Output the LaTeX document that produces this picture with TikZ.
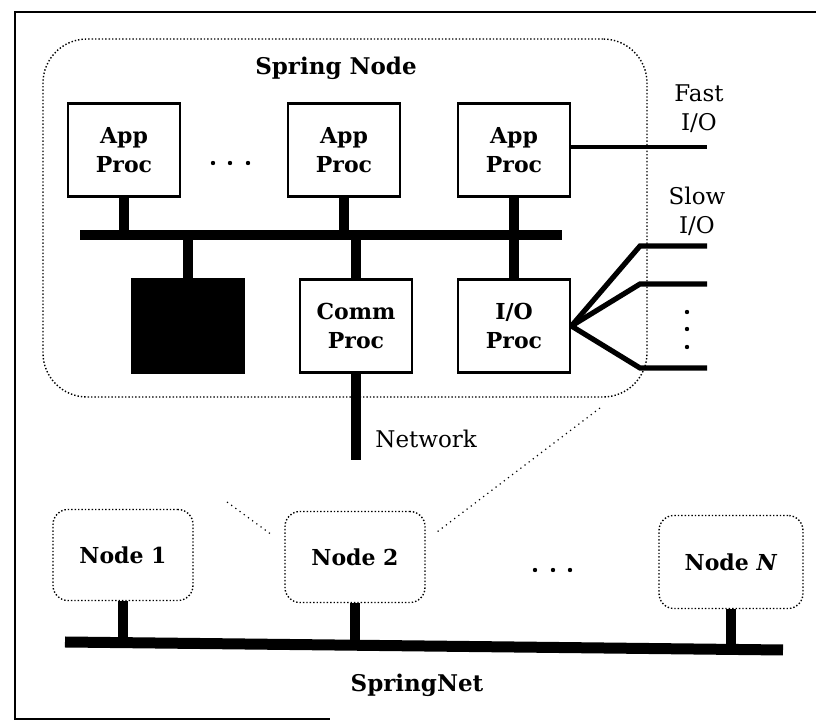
\documentclass[tikz,border=0pt]{standalone}
\usepackage{fontspec}
\setmainfont{DejaVu Serif}
\usetikzlibrary{calc}

\begin{document}
\begin{tikzpicture}[x=0.5pt,y=-0.5pt,
  proc/.style={draw, line width=1.4pt, fill=white, minimum width=56pt,
    minimum height=46.5pt, inner sep=0pt, align=center,
    font=\fontsize{11}{14.5}\selectfont\bfseries},
  finedots/.style={dash pattern=on 0.7pt off 1pt, line width=0.7pt},
  cluster/.style={draw, finedots, rounded corners=7.5pt,
    fill=white, minimum width=70pt, minimum height=45.5pt, inner sep=0pt,
    font=\fontsize{11}{14}\selectfont\bfseries},
  bus/.style={line width=5pt},
  stem/.style={line width=5pt},
  fastio/.style={line width=2pt},
  slowio/.style={line width=2.6pt, line join=miter},
  zoomline/.style={dotted, line width=0.6pt},
  plain/.style={font=\fontsize{11.5}{14.5}\selectfont, align=center, inner sep=0pt},
  heading/.style={font=\fontsize{11.5}{14}\selectfont\bfseries, inner sep=0pt},
]
\useasboundingbox (0,0) rectangle (816,721);

% frame, open on the right
\draw[line width=1.3pt] (816,12) -- (15,12) -- (15,719) -- (330,719);

% ---------- enlarged Spring node ----------
\node[draw, finedots, rounded corners=22pt,
      minimum width=302pt, minimum height=179pt, inner sep=0pt] (spring) at (345,218) {};
\node[heading] (title) at (336,68) {Spring Node};

% internal bus
\coordinate (busL) at (80,235);
\coordinate (busR) at (562,235);
\draw[bus] (busL) -- (busR);

% processors
\node[proc] (app1) at (124,150) {App\\Proc};
\node[proc] (app2) at (344,150) {App\\Proc};
\node[proc] (app3) at (514,150) {App\\Proc};
\node[proc, fill=black] (mem) at (188,326) {};
\node[proc] (comm) at (356,326) {Comm\\Proc};
\node[proc] (iop) at (514,326) {I/O\\Proc};

% bus taps
\draw[stem] (app1.south) -- (app1.south |- busL);
\draw[stem] (app2.south) -- (app2.south |- busL);
\draw[stem] (app3.south) -- (iop.north);
\draw[stem] (mem.north) -- (mem.north |- busL);
\draw[stem] (comm.north) -- (comm.north |- busL);

% ellipsis between application processors
\foreach \x in {213,230,248} \fill (\x,163) circle (1.1pt);

% network link of the communication processor
\coordinate (net) at (356,460);
\draw[stem] (comm.south) -- (net);
\node[plain, anchor=base west] (netlabel) at (375,448) {Network};

% fast I/O
\coordinate (fastend) at (707,147);
\draw[fastio] (app3.east |- fastend) -- (fastend);
\node[plain] (fastlbl) at (699,109) {Fast\\I/O};

% slow I/O fan-out
\coordinate (k1) at (640,246); \coordinate (e1) at (707,246);
\coordinate (k2) at (640,284); \coordinate (e2) at (707,284);
\coordinate (k3) at (640,368); \coordinate (e3) at (707,368);
\draw[slowio] (iop.east) -- (k1) -- (e1);
\draw[slowio] (iop.east) -- (k2) -- (e2);
\draw[slowio] (iop.east) -- (k3) -- (e3);
\node[plain] (slowlbl) at (697,211) {Slow\\I/O};
\foreach \y in {312,329,347} \fill (687,\y) circle (1.1pt);

% ---------- SpringNet ----------
\coordinate (sa) at (65,642);
\coordinate (sb) at (783,650);
\draw[bus, line width=5.5pt] (sa) -- (sb);

\node[cluster] (n1) at (123,555) {Node 1};
\node[cluster] (n2) at (355,557) {Node 2};
\node[cluster, minimum width=72pt, minimum height=46.5pt] (nN) at (731,562) {Node \textit{N}};

\coordinate (b1) at ($(sa)!0.079!(sb)$);
\coordinate (b2) at ($(sa)!0.404!(sb)$);
\coordinate (b3) at ($(sa)!0.930!(sb)$);
\draw[stem] (n1.south) -- (n1.south |- b1);
\draw[stem] (n2.south) -- (n2.south |- b2);
\draw[stem] (nN.south) -- (nN.south |- b3);

\foreach \x in {535,553,570} \fill (\x,570) circle (1.1pt);

\node[heading] (netname) at (417,685) {SpringNet};

% zoom lines from Node 2 to its enlargement
\coordinate (zl1) at (227,502); \coordinate (zl2) at (272,535);
\coordinate (zr1) at (600,408); \coordinate (zr2) at (437,532);
\draw[zoomline] (zl1) -- (zl2);
\draw[zoomline] (zr1) -- (zr2);
\end{tikzpicture}
\end{document}
